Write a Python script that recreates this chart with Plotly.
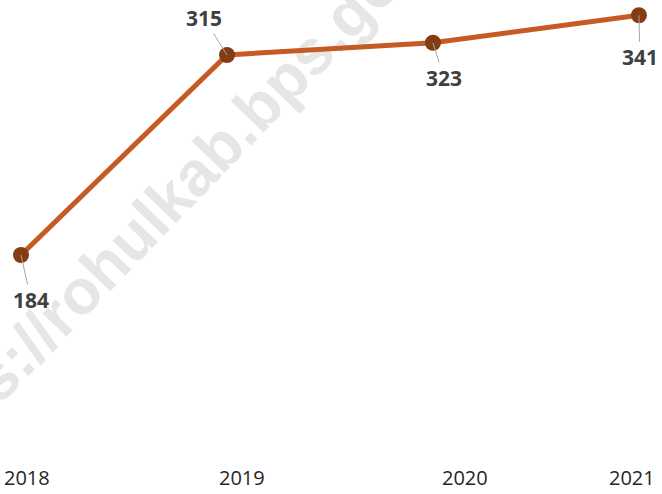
import plotly.graph_objects as go

years = [2018, 2019, 2020, 2021]
values = [184, 315, 323, 341]
year_labels = ["2018", "2019", "2020", "2021"]

# label offsets (px) for value callouts and year labels
label_ax = [10, -23, 11, 1]
label_ay = [45, -37, 35, 42]
year_shift = [6, 15, 32, -7]

fig = go.Figure()
fig.add_trace(go.Scatter(
    x=years, y=values, mode="lines+markers",
    line=dict(color="#C55A24", width=5),
    marker=dict(color="#843C12", size=16),
    showlegend=False, hoverinfo="skip",
))

for x, y, ax, ay in zip(years, values, label_ax, label_ay):
    fig.add_annotation(
        x=x, y=y, text=f"<b>{y}</b>", showarrow=True, arrowhead=0,
        arrowwidth=1, arrowcolor="#A6A6A6", ax=ax, ay=ay, standoff=0,
        font=dict(family="Open Sans", size=21, color="#404040"),
    )

for x, t, s in zip(years, year_labels, year_shift):
    fig.add_annotation(
        x=x, y=0, xref="x", yref="paper", text=t, showarrow=False,
        xshift=s, yshift=1, yanchor="bottom",
        font=dict(family="Open Sans", size=20, color="#262626"),
    )

# watermark behind the line
fig.add_shape(
    type="rect", xref="paper", yref="paper", x0=0.0, x1=0.502, y0=0.359, y1=0.859,
    line=dict(width=0), fillcolor="rgba(0,0,0,0)", layer="below",
    label=dict(text="<b>https://rohulkab.bps.go.id</b>", textangle=-46,
               textposition="middle center",
               font=dict(family="Liberation Sans", size=63, color="#E6E6E6")),
)

fig.update_layout(
    width=662, height=494,
    margin=dict(l=0, r=0, t=0, b=0),
    plot_bgcolor="white", paper_bgcolor="white",
    xaxis=dict(range=[2017.898, 2021.112], visible=False),
    yaxis=dict(range=[27.5, 351], visible=False),
)

fig.write_html("out.html", config={"displayModeBar": False},
               post_script="document.body.style.margin='0';")
